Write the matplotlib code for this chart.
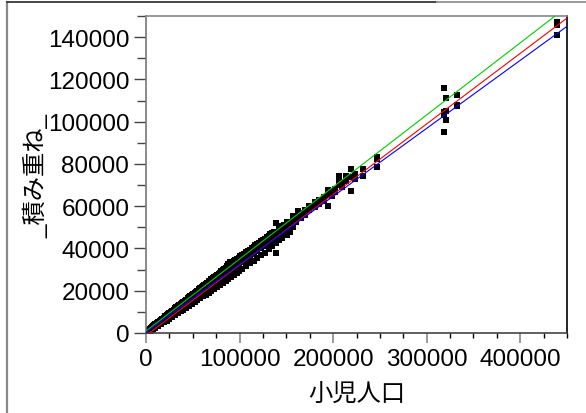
import numpy as np
import matplotlib.pyplot as plt
from matplotlib.lines import Line2D
from matplotlib.ticker import MultipleLocator

plt.rcParams['font.family'] = ['Liberation Sans', 'Noto Sans CJK JP', 'DejaVu Sans']

# 小児人口 (x) と 積み重ね (y) : 各xに対するyの値
child_pop = [1000, 2000, 3000, 4000, 5000, 6000, 7000, 8000, 9000, 10000,
             11500, 13000, 14500, 16000, 17500, 19000, 20500, 22000, 23500, 25000,
             26500, 28000, 29500, 31000, 32500, 34000, 35500, 37000, 38500, 40000,
             41500, 43000, 44500, 46000, 47500, 49000, 50500, 52000, 53500, 55000,
             56500, 58000, 59500, 61000, 62500, 64000, 65500, 67000, 68500, 70000,
             71500, 73000, 74500, 76000, 77500, 79000, 80500, 82000, 83500, 85000,
             86500, 88000, 89500, 91000, 92500, 94000, 95500, 97000, 99000, 101000,
             103000, 105000, 107000, 109000, 111000, 113000, 115000, 117000, 119000, 121000,
             123000, 125000, 127000, 129000, 131000, 133000, 135000, 137000, 139000, 142000,
             145000, 148000, 151000, 154000, 157000, 160000, 162900, 166000, 170000, 174700,
             177000, 180700, 185000, 190000, 194700, 199000, 202000, 206700, 210000, 213900,
             219300, 223000, 232400, 247400, 319000, 320900, 332300, 439200]
stacked = [[700, 200], [1200, 600, 300], [1500, 800], [1900, 1200, 700], [2300, 1500],
           [2700, 1900, 1200], [3000, 2200], [3400, 2600, 1800], [3700, 2900], [4200, 3200, 2300],
           [4600, 3600], [5200, 4200, 3200], [5700, 4700], [6300, 5200, 4100], [6800, 5700],
           [7300, 6200, 5000], [7900, 6700], [8400, 7200, 5900], [8900, 7700], [9500, 8200, 6800],
           [10000, 8700], [10600, 9100, 7600], [11000, 9600], [11600, 10100, 8500], [12300, 10500],
           [12700, 11100, 9300], [13300, 11600], [13700, 12100, 10200], [14200, 12600], [14800, 13100, 11100],
           [15300, 13600], [15800, 14100, 12000], [16400, 14600], [16800, 15100, 12900], [17400, 15600],
           [17900, 16100, 13800], [18500, 16600], [19000, 17100, 14700], [19400, 17600], [20100, 18100, 15600],
           [20600, 18600], [21200, 19000, 16500], [21600, 19500], [22300, 20000, 17400], [22800, 20500],
           [23200, 21000, 18200], [23700, 21500], [24400, 22000, 19000], [24800, 22500], [25500, 23000, 19900],
           [25900, 23500], [26500, 24000, 20800], [27000, 24500], [27500, 25000, 21700], [28100, 25500],
           [28500, 26000, 22700], [29200, 26500], [29600, 27000, 23500], [30200, 27500], [30800, 28000, 24500],
           [31500, 28500], [32500, 29000, 25400], [33800, 29500], [33400, 30000, 26400], [33800, 30500],
           [34200, 31000, 27300], [34600, 31500], [35000, 32000, 28200], [35500, 32700, 29200], [36200, 33400],
           [36900, 34000, 30500], [37500, 34700], [38200, 35400, 31800], [38800, 36000], [39500, 36700, 33000],
           [40100, 37400], [40800, 38000, 34200], [41500, 38700], [42200, 39400, 35400], [42700, 40000],
           [43400, 40700, 36700], [44000, 41400], [44700, 42000, 38000], [45300, 42700], [46000, 43400, 39600],
           [46700, 44000], [47300, 44700, 41000], [48000, 45300], [52000, 46000, 37800, 42500], [49500, 47000, 44000],
           [50400, 48000, 45000], [51300, 49000], [52300, 50000, 46500], [52000, 47800], [55500, 53000, 50000],
           [54500, 52400], [57800, 55000], [56700, 54400], [58400, 55800], [60200, 58000],
           [59500], [61800, 59600], [63000, 61000], [64500, 62600], [67800, 60200, 65500],
           [67200, 65000], [66500, 68300], [74100, 71600, 69800], [70900, 69000], [74100, 72000],
           [77600, 67300, 73600], [75300, 73100], [77600, 74400], [83400, 82300, 78400], [115700, 104400, 103100, 94900],
           [111000, 105200, 100700], [112600, 107800, 107200], [147000, 145800, 141000]]

# 3本の当てはめ線 (切片, 傾き)
fit_green = (900, 0.341)
fit_red = (-1200, 0.3338)
fit_blue = (300, 0.3218)

xs, ys = [], []
for x, vals in zip(child_pop, stacked):
    for v in vals:
        xs.append(x)
        ys.append(v)

fig = plt.figure(figsize=(5.86, 4.14), dpi=100)
ax = fig.add_axes([146/586, 80/414, 421/586, 317/414])

ax.scatter(xs, ys, marker='s', s=14, color='black', linewidths=0, zorder=2)

line_x = np.array([0, 450000])
for (b, m), c in [(fit_green, '#00cc00'), (fit_red, '#ff0000'), (fit_blue, '#0000ff')]:
    ax.plot(line_x, b + m * line_x, color=c, lw=0.8, zorder=3)

ax.set_xlim(0, 450000)
ax.set_ylim(0, 150000)
ax.xaxis.set_major_locator(MultipleLocator(100000))
ax.xaxis.set_minor_locator(MultipleLocator(25000))
ax.yaxis.set_major_locator(MultipleLocator(20000))
ax.yaxis.set_minor_locator(MultipleLocator(10000))
ax.ticklabel_format(style='plain')

ax.tick_params(axis='x', which='major', length=7, width=1.2, color='#888888', labelsize=17.5, pad=4)
ax.tick_params(axis='x', which='minor', length=3.5, width=1, color='black')
ax.tick_params(axis='y', which='major', length=9, width=1, color='#444444', labelsize=17.5, pad=3)
ax.tick_params(axis='y', which='minor', length=6.5, width=1, color='#444444')

ax.spines['left'].set_color('#777777')
ax.spines['bottom'].set_color('#444444')
ax.spines['top'].set_color('#888888')
ax.spines['right'].set_color('black')
for s in ax.spines.values():
    s.set_linewidth(1.2)

ax.set_xlabel('小児人口', fontsize=17.5)
ax.xaxis.set_label_coords(0.5, -0.155)
ax.set_ylabel('_積み重ね_', fontsize=17.5)
ax.yaxis.set_label_coords(-0.232, 0.5)

# 外枠
fig.add_artist(Line2D([7/586, 7/586], [0, 1 - 3/414], color='#888888', lw=1.6))
fig.add_artist(Line2D([7/586, 437/586], [1 - 3/414, 1 - 3/414], color='#444444', lw=1.4))
fig.add_artist(Line2D([437/586, 1], [1 - 3/414, 1 - 3/414], color='#999999', lw=1.4))

fig.savefig('out.png', dpi=100)
